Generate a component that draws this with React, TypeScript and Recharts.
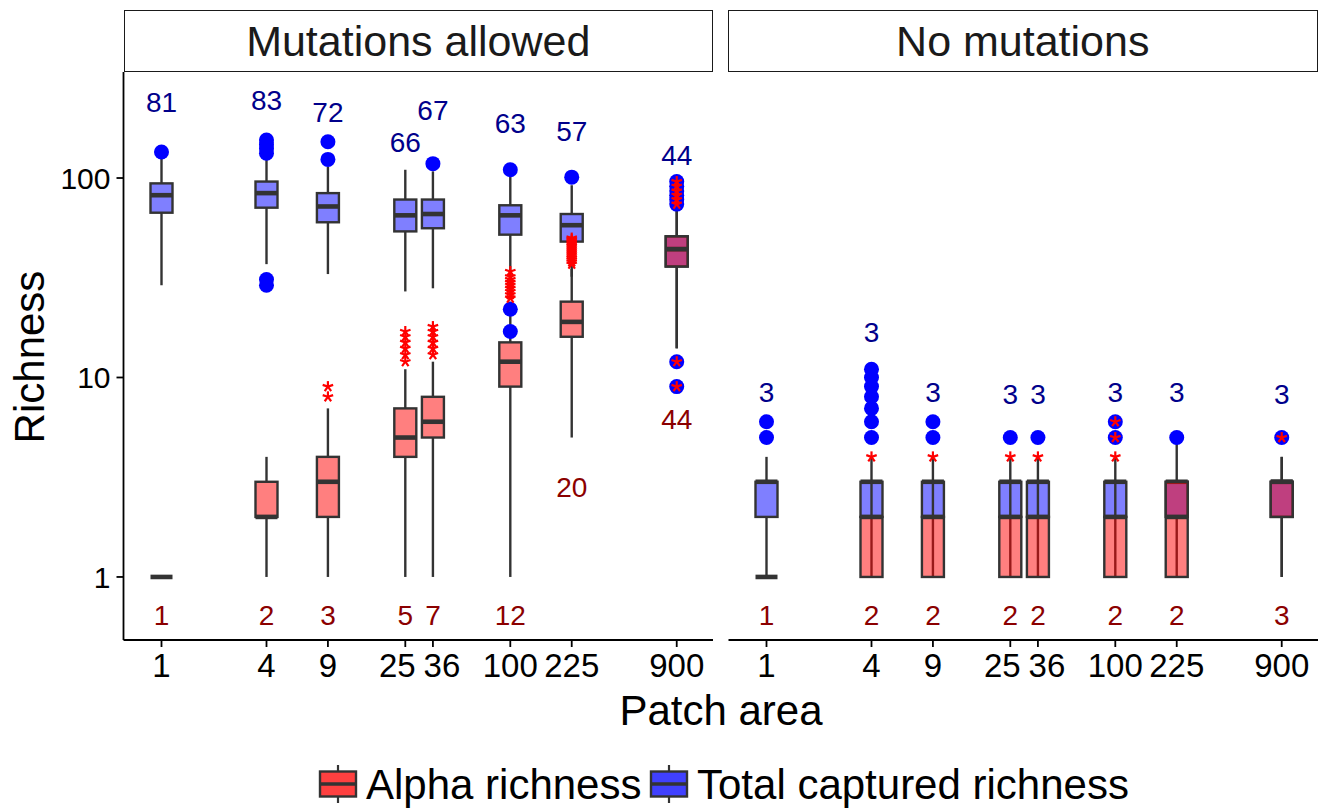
import React from "react";
import { ComposedChart, Line, Scatter, XAxis, YAxis } from "recharts";

const FONT = '"Liberation Sans", Arial, Helvetica, sans-serif';

const areas = [1, 4, 9, 25, 36, 100, 225, 900];
const yTicks = [1, 10, 100];

// [min, q1, median, q3, max] for each patch area
const mutTotalStats = [
  [29, 67, 82, 94, 127], [37, 71, 84, 96, 129], [33, 60, 72, 84, 114], [27, 54, 65, 78, 110],
  [28, 56, 66, 78, 108], [27, 52, 65, 73, 102], [32, 48, 58, 66, 92], [14, 36, 44, 51, 71],
];
const mutAlphaStats = [
  [1, 1, 1, 1, 1], [1, 2, 2, 3, 4], [1, 2, 3, 4, 7], [1, 4, 5, 7, 11],
  [1, 5, 6, 8, 12], [1, 9, 12, 15, 24], [5, 16, 19, 24, 35], [14, 36, 44, 51, 71],
];
const noMutTotalStats = [
  [1, 2, 3, 3, 4], [1, 2, 3, 3, 4], [1, 2, 3, 3, 4], [1, 2, 3, 3, 4],
  [1, 2, 3, 3, 4], [1, 2, 3, 3, 4], [1, 2, 3, 3, 5], [1, 2, 3, 3, 4],
];
const noMutAlphaStats = [
  [1, 1, 1, 1, 1], [1, 1, 2, 2, 3], [1, 1, 2, 2, 3], [1, 1, 2, 2, 3],
  [1, 1, 2, 2, 3], [1, 1, 2, 2, 3], [1, 1, 2, 3, 3], [1, 2, 3, 3, 4],
];

const mutTotalOutliers = [
  [135], [29, 31, 133, 140, 147, 155], [124, 152], [], [118], [17, 22, 110], [101],
  [9, 12, 74, 78, 82, 86, 91, 96],
];
const mutAlphaOutliers = [
  [], [], [8, 9], [12, 13, 14, 15, 16, 17], [13, 14, 15, 16, 17, 18],
  [25, 26, 27, 28, 29, 30, 31, 32, 34],
  [37, 38, 39, 40, 41, 42, 43, 44, 45, 46, 47, 48, 49, 50],
  [9, 12, 74, 78, 82, 86, 91, 96],
];
const noMutTotalOutliers = [[5, 6], [5, 6, 7, 8, 9, 10, 11], [5, 6], [5], [5], [5, 6], [5], [5]];
const noMutAlphaOutliers = [[], [4], [4], [4], [4], [4, 5, 6], [], [5]];

const mutTotalLabels = [81, 83, 72, 66, 67, 63, 57, 44];
const mutAlphaLabels = [1, 2, 3, 5, 7, 12, 20, 44];
const noMutTotalLabels = [3, 3, 3, 3, 3, 3, 3, 3];
const noMutAlphaLabels = [1, 2, 2, 2, 2, 2, 2, 3];

// richness value where each annotation is centred
const mutTotalLabelAt = [240, 246, 214, 151, 219, 189, 172, 130];
const mutAlphaLabelAt = [0.645, 0.645, 0.645, 0.645, 0.645, 0.645, 2.83, 6.2];
const noMutTotalLabelAt = [8.5, 17, 8.5, 8.3, 8.3, 8.5, 8.5, 8.3];
const noMutAlphaLabelAt = [0.645, 0.645, 0.645, 0.645, 0.645, 0.645, 0.645, 0.645];

const X_DOMAIN = [0.6055, 1453];
const Y_DOMAIN = [0.483, 340];
const GREY = "#333333";

const boxPoints = (stats: number[][]) =>
  areas.flatMap((a, i) => stats[i].map((v) => ({ x: a, y: v })));
const outlierPoints = (out: number[][]) =>
  areas.flatMap((a, i) => out[i].map((v) => ({ x: a, y: v })));
const labelPoints = (labels: number[], at: number[]) =>
  areas.map((a, i) => ({ x: a, y: at[i], label: labels[i] }));

// every 5 consecutive points of the line are one box: min, q1, median, q3, max
function boxGlyph(fill: string) {
  return (p: any) => {
    const { index, points, key } = p;
    if (index % 5 !== 0 || !points) return <g key={key} />;
    const pts = points.slice(index, index + 5);
    const cx = pts[0].x;
    const [yMin, yQ1, yMed, yQ3, yMax] = pts.map((q: any) => q.y);
    const hw = 11;
    return (
      <g key={key}>
        <line x1={cx} x2={cx} y1={yQ3} y2={yMax} stroke={GREY} strokeWidth={2.4} />
        <line x1={cx} x2={cx} y1={yQ1} y2={yMin} stroke={GREY} strokeWidth={2.4} />
        <rect x={cx - hw} y={yQ3} width={hw * 2} height={Math.max(yQ1 - yQ3, 0)} fill={fill} fillOpacity={0.5} stroke={GREY} strokeWidth={2.4} />
        <line x1={cx - hw} x2={cx + hw} y1={yMed} y2={yMed} stroke={GREY} strokeWidth={4.6} />
      </g>
    );
  };
}

const blueDot = (p: any) => <circle cx={p.cx} cy={p.cy} r={7.5} fill="#0000ff" />;

const redStar = (p: any) => {
  const arms = [-90, -18, 54, 126, 198];
  return (
    <g>
      {arms.map((d) => {
        const r = (d * Math.PI) / 180;
        return (
          <line key={d} x1={p.cx} y1={p.cy} x2={p.cx + 5.5 * Math.cos(r)} y2={p.cy + 5.5 * Math.sin(r)} stroke="#ff0000" strokeWidth={2.2} />
        );
      })}
    </g>
  );
};

const labelShape = (color: string) => (p: any) => (
  <text x={p.cx} y={p.cy} dy="0.36em" textAnchor="middle" fill={color} fontSize={28} fontFamily={FONT}>
    {p.payload.label}
  </text>
);

// the two crowded labels are pushed apart a little, like in the original figure
const tickNudge: Record<number, number> = { 25: -8, 36: 9 };

const AreaTick = (p: any) => (
  <text x={p.x + (tickNudge[p.payload.value] ?? 0)} y={p.y} dy="0.71em" textAnchor="middle" fill="#000" fontSize={33} fontFamily={FONT}>
    {p.payload.value}
  </text>
);

function Panel(props: any) {
  const { totalStats, alphaStats, totalOut, alphaOut, totalLab, alphaLab, totalLabAt, alphaLabAt, showY } = props;
  return (
    <ComposedChart width={720} height={700} margin={{ top: 72, right: 7, bottom: 0, left: showY ? 0 : 123.5 }}>
      <XAxis
        dataKey="x"
        type="number"
        scale="log"
        domain={X_DOMAIN}
        ticks={areas}
        interval={0}
        height={60}
        tick={AreaTick}
        tickSize={7}
        tickMargin={7}
        axisLine={{ stroke: "#000", strokeWidth: 1.8 }}
        tickLine={{ stroke: "#000", strokeWidth: 1.8 }}
      />
      <YAxis
        dataKey="y"
        type="number"
        scale="log"
        domain={Y_DOMAIN}
        ticks={yTicks}
        interval={0}
        width={123.5}
        hide={!showY}
        tick={{ fill: "#000", fontSize: 30, fontFamily: FONT }}
        tickSize={7}
        tickMargin={6}
        axisLine={{ stroke: "#000", strokeWidth: 1.8 }}
        tickLine={{ stroke: "#000", strokeWidth: 1.8 }}
      />
      <Line data={boxPoints(totalStats)} dataKey="y" stroke="none" activeDot={false} dot={boxGlyph("#0000ff")} isAnimationActive={false} legendType="none" />
      <Line data={boxPoints(alphaStats)} dataKey="y" stroke="none" activeDot={false} dot={boxGlyph("#ff0000")} isAnimationActive={false} legendType="none" />
      <Scatter data={outlierPoints(totalOut)} shape={blueDot} isAnimationActive={false} />
      <Scatter data={outlierPoints(alphaOut)} shape={redStar} isAnimationActive={false} />
      <Scatter data={labelPoints(totalLab, totalLabAt)} shape={labelShape("#00008b")} isAnimationActive={false} />
      <Scatter data={labelPoints(alphaLab, alphaLabAt)} shape={labelShape("#8b0000")} isAnimationActive={false} />
    </ComposedChart>
  );
}

function Strip({ left, text }: { left: number; text: string }) {
  return (
    <div
      style={{
        position: "absolute", left, top: 10, width: 589.5, height: 62, boxSizing: "border-box",
        border: "1.5px solid #1a1a1a", display: "flex", alignItems: "center", justifyContent: "center",
        fontSize: 43, color: "#1a1a1a", fontFamily: FONT,
      }}
    >
      {text}
    </div>
  );
}

function LegendKey({ x, fill }: { x: number; fill: string }) {
  return (
    <g>
      <line x1={x + 18} x2={x + 18} y1={765} y2={803} stroke={GREY} strokeWidth={2.2} />
      <rect x={x} y={771.5} width={36} height={25} fill={fill} stroke={GREY} strokeWidth={2.4} />
      <line x1={x} x2={x + 36} y1={784} y2={784} stroke={GREY} strokeWidth={3.5} />
    </g>
  );
}

export default function App() {
  return (
    <div style={{ position: "absolute", left: 0, top: 0, width: 1322, height: 810, background: "#fff", fontFamily: FONT }}>
      <Strip left={123.5} text="Mutations allowed" />
      <Strip left={728} text="No mutations" />
      <div style={{ position: "absolute", left: 0, top: 0 }}>
        <Panel
          totalStats={mutTotalStats} alphaStats={mutAlphaStats}
          totalOut={mutTotalOutliers} alphaOut={mutAlphaOutliers}
          totalLab={mutTotalLabels} alphaLab={mutAlphaLabels}
          totalLabAt={mutTotalLabelAt} alphaLabAt={mutAlphaLabelAt}
          showY
        />
      </div>
      <div style={{ position: "absolute", left: 604.5, top: 0 }}>
        <Panel
          totalStats={noMutTotalStats} alphaStats={noMutAlphaStats}
          totalOut={noMutTotalOutliers} alphaOut={noMutAlphaOutliers}
          totalLab={noMutTotalLabels} alphaLab={noMutAlphaLabels}
          totalLabAt={noMutTotalLabelAt} alphaLabAt={noMutAlphaLabelAt}
        />
      </div>
      <svg width={1322} height={810} style={{ position: "absolute", left: 0, top: 0, pointerEvents: "none" }}>
        <text x={29} y={357} transform="rotate(-90 29 357)" dy="0.36em" textAnchor="middle" fontSize={42} fontFamily={FONT} fill="#000">
          Richness
        </text>
        <text x={721} y={710} dy="0.36em" textAnchor="middle" fontSize={42} fontFamily={FONT} fill="#000">
          Patch area
        </text>
        <LegendKey x={320} fill="#ff4040" />
        <text x={366} y={784} dy="0.36em" fontSize={42} fontFamily={FONT} fill="#000">Alpha richness</text>
        <LegendKey x={651} fill="#4040ff" />
        <text x={697} y={784} dy="0.36em" fontSize={42} fontFamily={FONT} fill="#000">Total captured richness</text>
      </svg>
    </div>
  );
}
